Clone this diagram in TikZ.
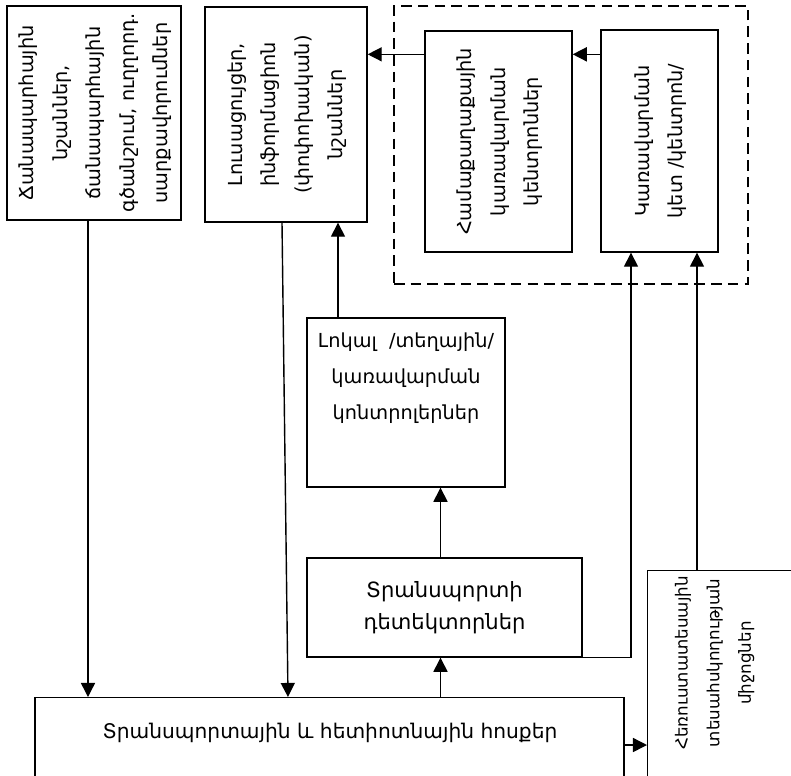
\documentclass[tikz,border=0pt]{standalone}
\usepackage{fontspec}
\setmainfont{DejaVu Sans}
\usetikzlibrary{arrows.meta,calc}
\newcommand{\rtxt}[1]{\rotatebox{90}{\begin{tabular}{@{}c@{}}#1\end{tabular}}}

\begin{document}
\begin{tikzpicture}[x=0.02cm,y=-0.02cm,line width=0.8pt,
	box/.style={draw,rectangle,align=center,inner sep=0pt,font=\fontsize{11}{19}\selectfont},
	txt/.style={align=center,inner sep=0pt,font=\fontsize{11}{20.5}\selectfont},
	grp/.style={draw,rectangle,dash pattern=on 6pt off 3.5pt,inner sep=0pt},
	arr/.style={-{Triangle[length=8pt,width=8pt]}}]
	\useasboundingbox (0,0) rectangle (791,775);
	\clip (0,0) rectangle (791,775);
	\node[box,minimum width=3.48cm,minimum height=4.28cm] (sig) at (94,113) {\rtxt{Ճանապարհային\\նշաններ,\\ճանապարհային\\գծանշում, ուղղորդ.\\սարքավորումներ}};
	\node[box,minimum width=3.24cm,minimum height=4.30cm] (lights) at (286,114.5) {\rtxt{Լուսացույցեր,\\ինֆորմացիոն\\(փոփոխական)\\նշաններ}};
	\node[grp,minimum width=7.08cm,minimum height=5.56cm] (grp) at (571,145) {};
	\node[box,minimum width=2.94cm,minimum height=4.42cm] (city) at (498.5,141.5) {\rtxt{Համաքաղաքային\\կառավարման\\կենտրոններ}};
	\node[box,minimum width=2.34cm,minimum height=4.44cm] (point) at (659.5,141) {\rtxt{Կառավարման\\կետ /կենտրոն/}};
	\node[box,minimum width=3.96cm,minimum height=3.38cm] (ctrl) at (406,402.5) {};
	\node[txt] (ctrl-t) at (406,378) {Լոկալ~ /տեղային/\\կառավարման\\կոնտրոլերներ};
	\node[box,minimum width=5.5cm,minimum height=1.98cm,font=\fontsize{12}{18}\selectfont] (det) at (444.5,607.5) {Տրանսպորտի\\դետեկտորներ};
	\node[box,minimum width=11.78cm,minimum height=2.4cm,anchor=north] (flows) at (329.5,697) {};
	\node[txt,font=\fontsize{11.5}{18}\selectfont] (flows-t) at (330,733) {Տրանսպորտային և հետիոտնային հոսքեր};
	\node[box,minimum width=3.4cm,minimum height=4.8cm,anchor=north west] (tv) at (647,570) {};
	\node[draw=none,inner sep=0pt,font=\fontsize{9.5}{18}\selectfont] (tv-t) at (713,663) {\rtxt{Հեռուստատեսային\\տեսահսկողության\\միջոցներ}};
	\coordinate (s1) at ($(sig.south)+(-6,0)$);
	\coordinate (l1) at ($(lights.south)+(-4,0)$);
	\coordinate (f2) at ($(flows.north)+(-41.5,0)$);
	\coordinate (f3) at ($(flows.north)+(111,0)$);
	\coordinate (d1) at ($(det.north)+(-4,0)$);
	\coordinate (c1) at ($(ctrl.north)+(-68,0)$);
	\coordinate (p1) at ($(point.south)+(-28.5,0)$);
	\coordinate (t1) at ($(tv.north west)+(50,0)$);
	\coordinate (f4) at ($(flows.north east)+(0,48)$);
	\coordinate (p2) at ($(point.north west)+(0,25)$);
	\coordinate (c2) at ($(city.north west)+(0,24)$);
	\draw[arr] (s1) -- (s1 |- flows.north);
	\draw[arr] (l1) -- (f2);
	\draw[arr] (f3) -- (f3 |- det.south);
	\draw[arr] (d1) -- (d1 |- ctrl.south);
	\draw[arr] (c1) -- (c1 |- lights.south);
	\draw[arr] (det.south east) -| (p1);
	\draw[arr] (t1) -- (t1 |- point.south);
	\draw[arr] (f4) -- (f4 -| tv.west);
	\draw[arr] (p2) -- (p2 -| city.east);
	\draw[arr] (c2) -- (c2 -| lights.east);
\end{tikzpicture}
\end{document}
